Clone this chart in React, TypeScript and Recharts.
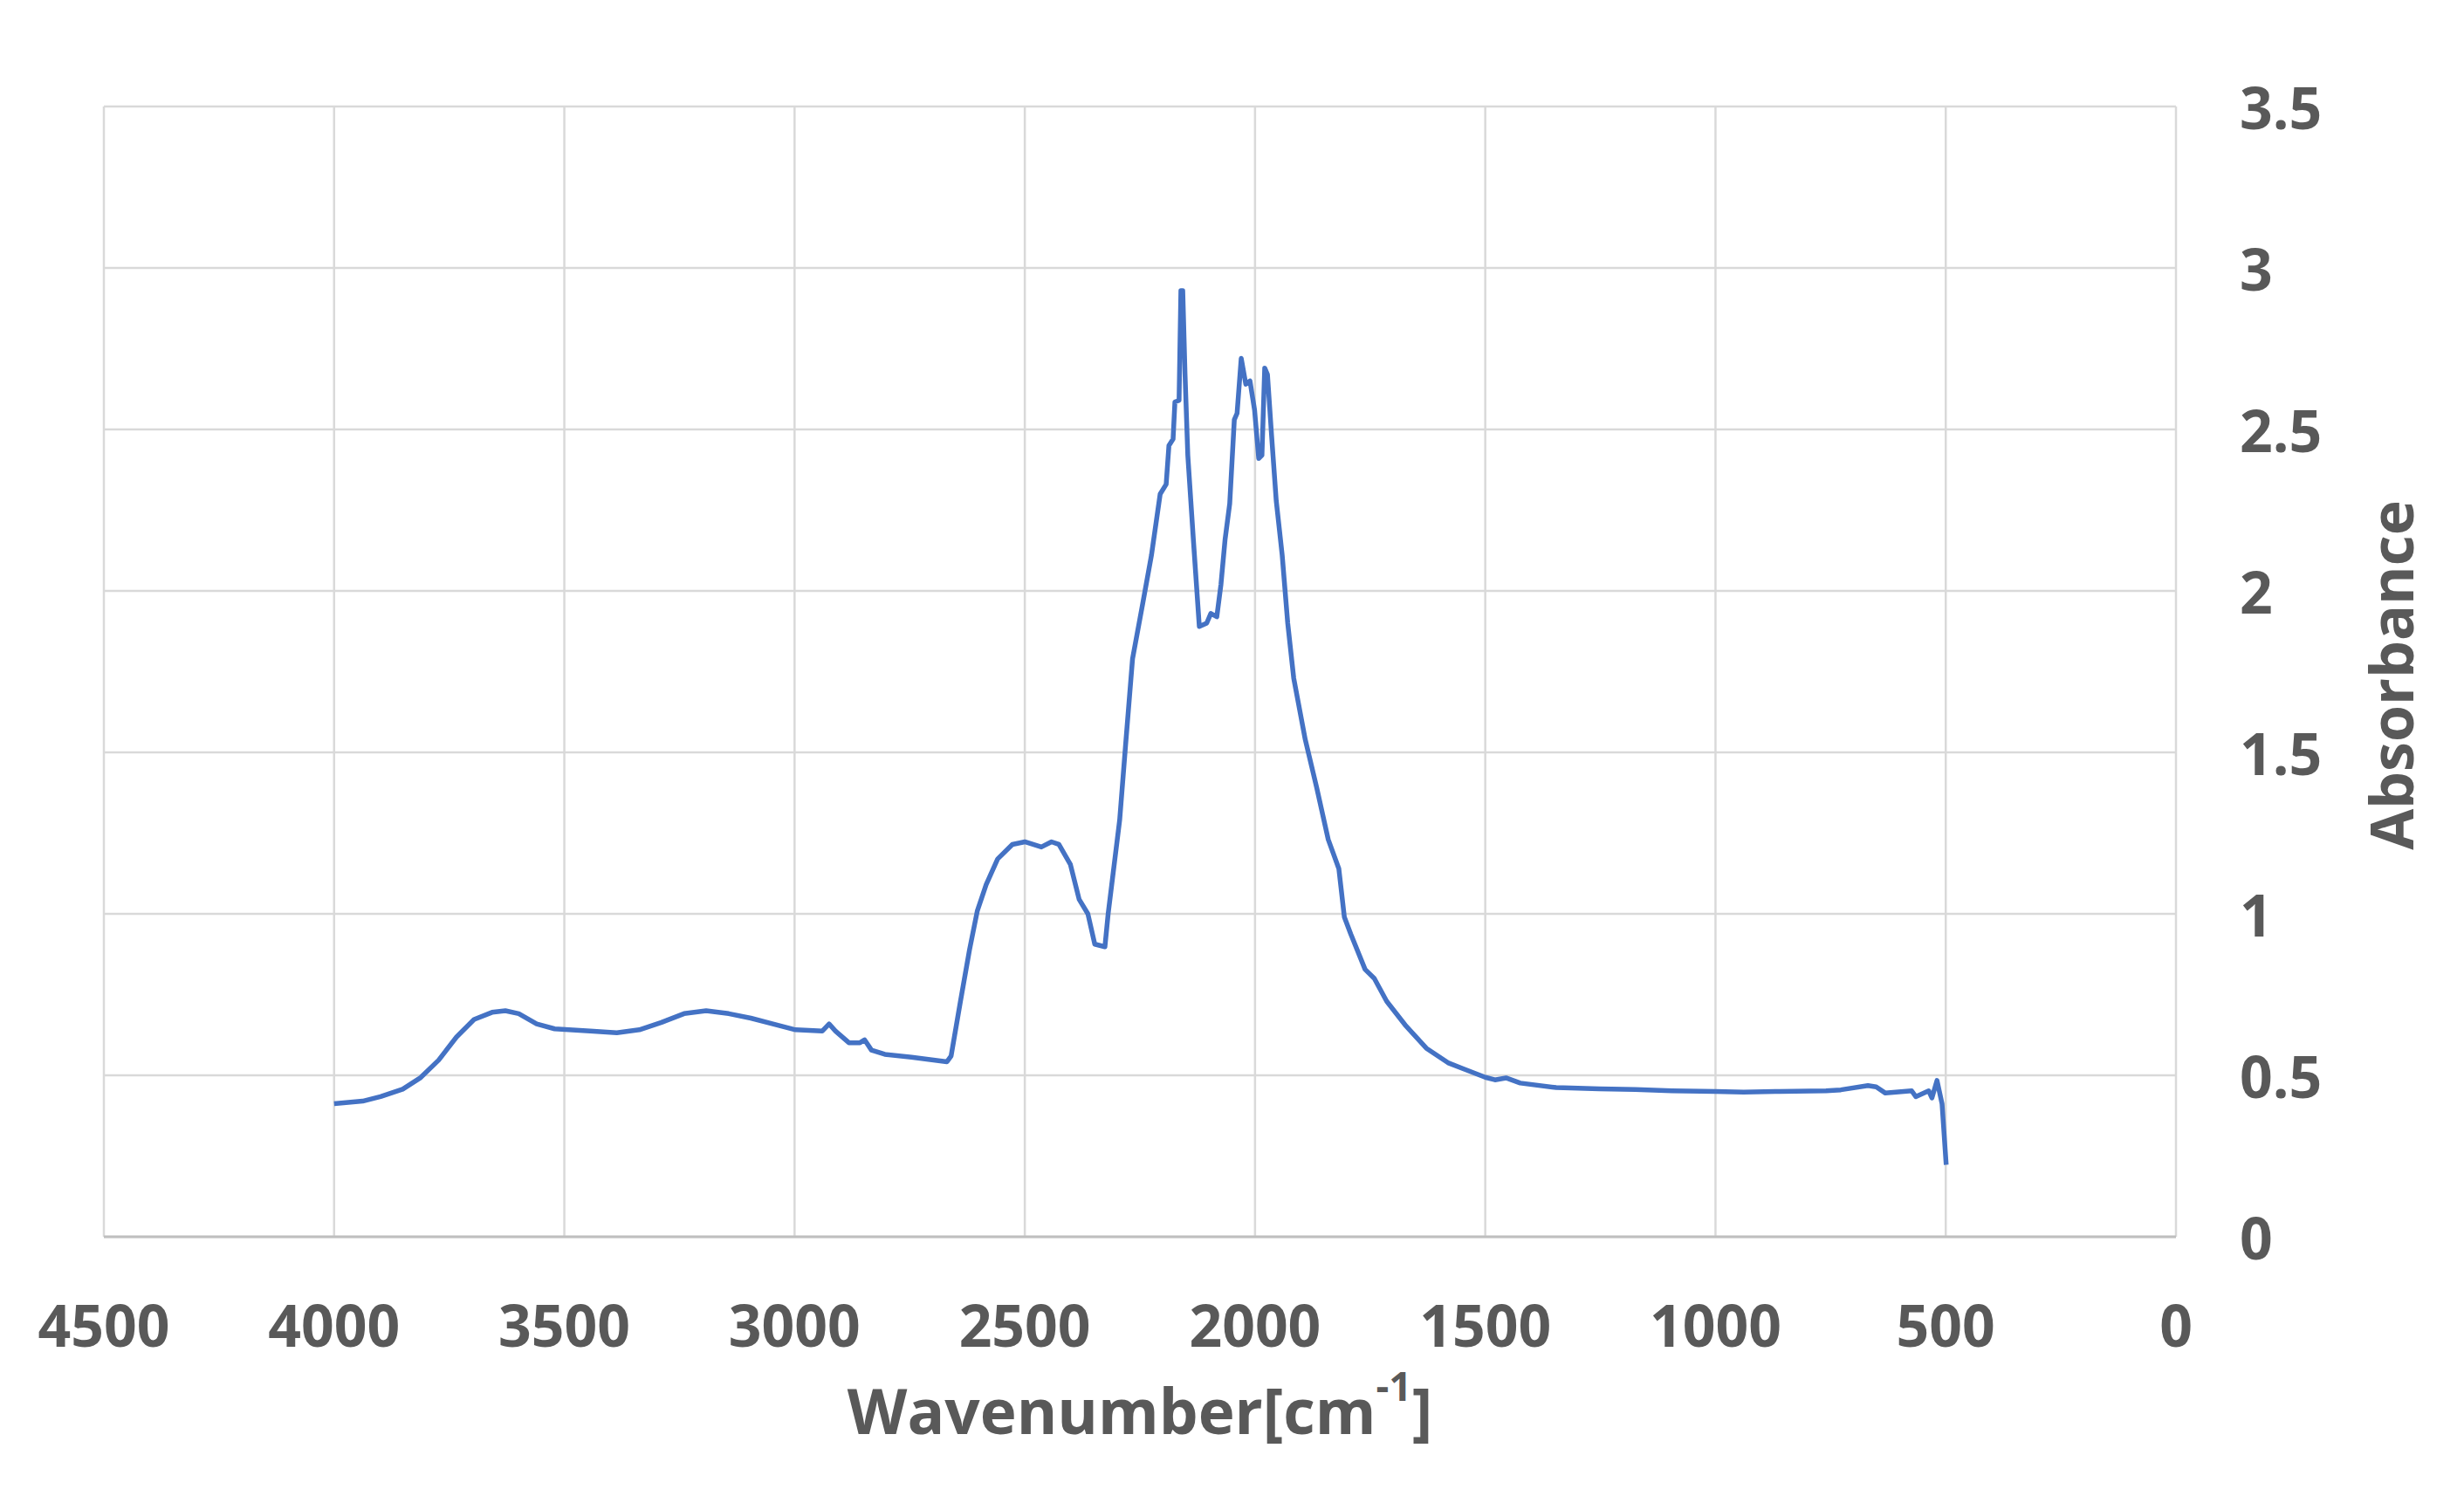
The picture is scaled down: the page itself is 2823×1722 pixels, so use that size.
import { LineChart, Line, XAxis, YAxis, CartesianGrid, Label } from 'recharts';

const wavenumbers = [
  4000, 3938, 3899, 3851, 3812, 3773, 3734, 3696, 3657, 3628, 3599, 3560, 3521, 3444, 3386, 3337,
  3289, 3240, 3192, 3143, 3095, 3047, 2998, 2940, 2925, 2911, 2882, 2858, 2848, 2833, 2804, 2746,
  2669, 2660, 2640, 2620, 2603, 2584, 2559, 2527, 2500, 2464, 2442, 2426, 2401, 2382, 2363, 2348,
  2326, 2319, 2294, 2281, 2266, 2244, 2225, 2206, 2193, 2187, 2178, 2174, 2165, 2161, 2157, 2152,
  2146, 2134, 2121, 2105, 2096, 2083, 2074, 2065, 2055, 2045, 2039, 2030, 2020, 2011, 2001, 1992,
  1985, 1979, 1973, 1964, 1954, 1941, 1929, 1916, 1891, 1866, 1841, 1818, 1806, 1792, 1761, 1741,
  1714, 1674, 1628, 1581, 1549, 1500, 1479, 1455, 1424, 1346, 1252, 1174, 1095, 1000, 939, 861,
  760, 728, 669, 651, 631, 574, 565, 537, 530, 519, 508, 499,
];

const absorbance = [
  0.412, 0.42, 0.434, 0.457, 0.493, 0.547, 0.619, 0.673, 0.695, 0.7, 0.691, 0.659, 0.644, 0.637, 0.632, 0.641,
  0.664, 0.691, 0.7, 0.691, 0.677, 0.659, 0.641, 0.637, 0.659, 0.637, 0.601, 0.601, 0.61, 0.578, 0.565, 0.556,
  0.542, 0.56, 0.727, 0.889, 1.01, 1.09, 1.17, 1.215, 1.223, 1.207, 1.223, 1.215, 1.153, 1.045, 1.0, 0.906,
  0.898, 1.0, 1.29, 1.525, 1.79, 1.96, 2.11, 2.3, 2.33, 2.45, 2.47, 2.585, 2.59, 2.93, 2.93, 2.67,
  2.42, 2.16, 1.89, 1.9, 1.93, 1.92, 2.02, 2.16, 2.27, 2.53, 2.55, 2.72, 2.64, 2.65, 2.56, 2.41,
  2.42, 2.69, 2.67, 2.48, 2.28, 2.11, 1.9, 1.73, 1.54, 1.39, 1.23, 1.14, 0.99, 0.937, 0.828, 0.8,
  0.729, 0.656, 0.584, 0.539, 0.521, 0.494, 0.486, 0.492, 0.476, 0.462, 0.458, 0.456, 0.452, 0.45, 0.448, 0.45,
  0.452, 0.455, 0.468, 0.464, 0.445, 0.452, 0.434, 0.452, 0.43, 0.484, 0.412, 0.223,
];

const xTicks = [4500, 4000, 3500, 3000, 2500, 2000, 1500, 1000, 500, 0];
const yTicks = [0, 0.5, 1, 1.5, 2, 2.5, 3, 3.5];

const data = wavenumbers.map((w, i) => ({ w, a: absorbance[i] }));

const font = {
  fontFamily: '"Open Sans", "Noto Sans", sans-serif',
  fontWeight: 700,
  fill: '#595959',
};

function XTick(props: any) {
  const { x, y, payload } = props;
  return (
    <text x={x} y={y + 100} textAnchor="middle" dominantBaseline="central" fontSize={66} style={font}>
      {payload.value}
    </text>
  );
}

function YTick(props: any) {
  const { x, y, payload } = props;
  return (
    <text x={x + 73} y={y} textAnchor="start" dominantBaseline="central" fontSize={66} style={font}>
      {payload.value}
    </text>
  );
}

function XTitle(props: any) {
  const vb = props.viewBox || { x: 111, y: 1409, width: 2374, height: 250 };
  const cx = vb.x + vb.width / 2;
  const cy = vb.y + 198;
  return (
    <text x={cx} y={cy} textAnchor="middle" dominantBaseline="central" fontSize={71} style={font}>
      Wavenumber[cm
      <tspan fontSize={46} dy={-28}>-1</tspan>
      <tspan dy={28}>]</tspan>
    </text>
  );
}

function YTitle(props: any) {
  const vb = props.viewBox || { x: 2485, y: 114, width: 300, height: 1295 };
  const cx = vb.x + 245;
  const cy = vb.y + vb.height / 2 + 4;
  return (
    <text
      x={cx}
      y={cy}
      transform={`rotate(-90 ${cx} ${cy})`}
      textAnchor="middle"
      dominantBaseline="central"
      fontSize={68}
      style={font}
    >
      Absorbance
    </text>
  );
}

export default function App() {
  return (
    <div style={{ width: 2807, height: 1706, background: '#fff' }}>
      <LineChart width={2807} height={1706} data={data} margin={{ top: 114, left: 111, right: 22, bottom: 47 }}>
        <CartesianGrid stroke="#d9d9d9" strokeWidth={2.5} />
        <XAxis
          dataKey="w"
          type="number"
          domain={[0, 4500]}
          ticks={xTicks}
          reversed
          interval={0}
          height={250}
          tickSize={0}
          tickMargin={0}
          tickLine={false}
          axisLine={{ stroke: '#bfbfbf', strokeWidth: 3 }}
          tick={<XTick />}
        >
          <Label content={<XTitle />} />
        </XAxis>
        <YAxis
          orientation="right"
          type="number"
          domain={[0, 3.5]}
          ticks={yTicks}
          interval={0}
          width={300}
          tickSize={0}
          tickMargin={0}
          tickLine={false}
          axisLine={false}
          tick={<YTick />}
        >
          <Label content={<YTitle />} />
        </YAxis>
        <Line
          type="linear"
          dataKey="a"
          stroke="#4472C4"
          strokeWidth={5.5}
          dot={false}
          strokeLinejoin="round"
          isAnimationActive={false}
        />
      </LineChart>
    </div>
  );
}
